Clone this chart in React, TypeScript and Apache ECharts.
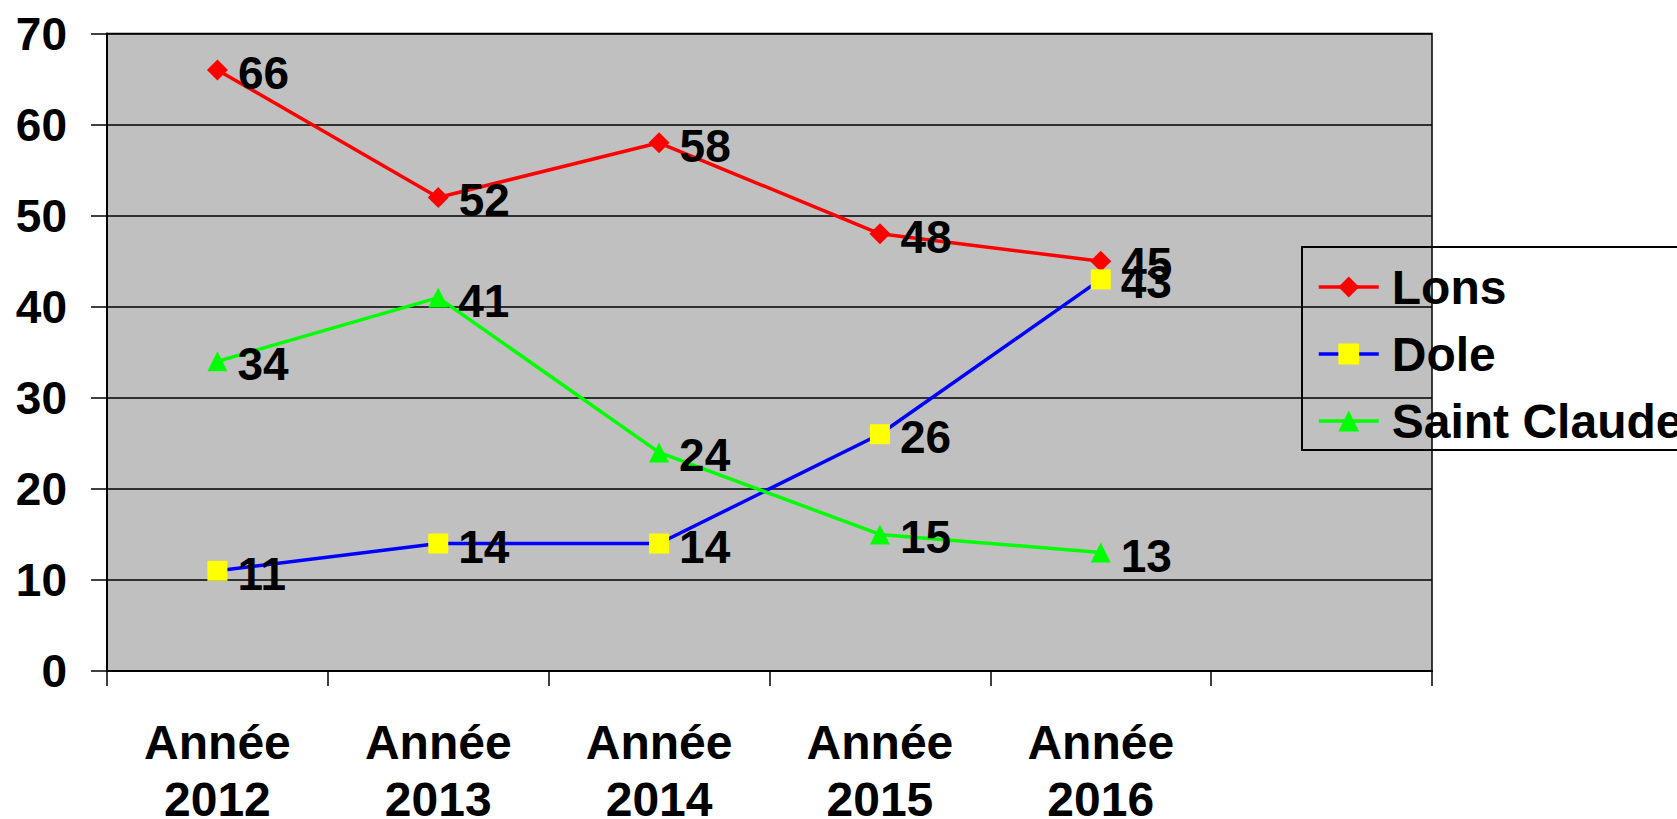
import React, { useEffect, useRef } from "react";
import * as echarts from "echarts";

const categories = ["Année\n2012", "Année\n2013", "Année\n2014", "Année\n2015", "Année\n2016", ""];
const lons = [66, 52, 58, 48, 45];
const dole = [11, 14, 14, 26, 43];
const saintClaude = [34, 41, 24, 15, 13];
const seriesNames = ["Lons", "Dole", "Saint Claude"];

const FONT = "'Liberation Sans', Arial, sans-serif";
const FS = 46;

export default function App() {
  const ref = useRef<HTMLDivElement>(null);
  useEffect(() => {
    if (!ref.current) return;
    const chart = echarts.init(ref.current, null, { renderer: "svg" });
    const label = {
      show: true,
      position: "right",
      distance: 10,
      offset: [0, 3],
      color: "#000",
      fontFamily: FONT,
      fontWeight: "bold",
      fontSize: FS,
    };
    chart.setOption({
      animation: false,
      backgroundColor: "#fff",
      textStyle: { fontFamily: FONT },
      grid: {
        left: 107,
        right: 245,
        top: 33.5,
        bottom: 148,
        outerBoundsMode: "none",
        containLabel: false,
        show: true,
        backgroundColor: "#C0C0C0",
        borderColor: "#000",
        borderWidth: 1.5,
      },
      legend: {
        orient: "vertical",
        left: 1302,
        top: 247,
        padding: [16, 60, 5, 15],
        itemGap: 19,
        itemWidth: 60,
        itemHeight: 26,
        borderColor: "#000",
        borderWidth: 2,
        backgroundColor: "transparent",
        data: seriesNames,
        lineStyle: { width: 3.5 },
        textStyle: {
          fontFamily: FONT,
          fontWeight: "bold",
          fontSize: 48,
          color: "#000",
          lineHeight: 46,
          padding: [0, 0, 0, 8],
        },
      },
      xAxis: {
        type: "category",
        data: categories,
        boundaryGap: true,
        axisLine: { lineStyle: { color: "#000", width: 2 } },
        axisTick: { show: true, length: 15, lineStyle: { color: "#000", width: 1.5 } },
        axisLabel: {
          color: "#000",
          fontFamily: FONT,
          fontWeight: "bold",
          fontSize: 48,
          lineHeight: 57,
          margin: 43,
          interval: 0,
        },
      },
      yAxis: {
        type: "value",
        min: 0,
        max: 70,
        interval: 10,
        axisLine: { show: true, lineStyle: { color: "#000", width: 2 } },
        axisTick: { show: true, length: 16, lineStyle: { color: "#000", width: 1.5 } },
        splitLine: { show: true, lineStyle: { color: "#000", width: 1.5 } },
        axisLabel: {
          color: "#000",
          fontFamily: FONT,
          fontWeight: "bold",
          fontSize: FS,
          margin: 40,
        },
      },
      series: [
        {
          name: "Lons",
          type: "line",
          data: lons,
          symbol: "diamond",
          symbolSize: 21,
          lineStyle: { color: "#FF0000", width: 3.5 },
          itemStyle: { color: "#FF0000" },
          label,
        },
        {
          name: "Dole",
          type: "line",
          data: dole,
          symbol: "rect",
          symbolSize: 20,
          lineStyle: { color: "#0000FF", width: 3.5 },
          itemStyle: { color: "#FFFF00" },
          label,
        },
        {
          name: "Saint Claude",
          type: "line",
          data: saintClaude,
          symbol: "triangle",
          symbolSize: 20,
          lineStyle: { color: "#00FF00", width: 3.5 },
          itemStyle: { color: "#00FF00" },
          label,
        },
      ],
    });
    return () => chart.dispose();
  }, []);
  return (
    <div
      ref={ref}
      style={{ position: "fixed", left: 0, top: 0, width: 1677, height: 819 }}
    />
  );
}
